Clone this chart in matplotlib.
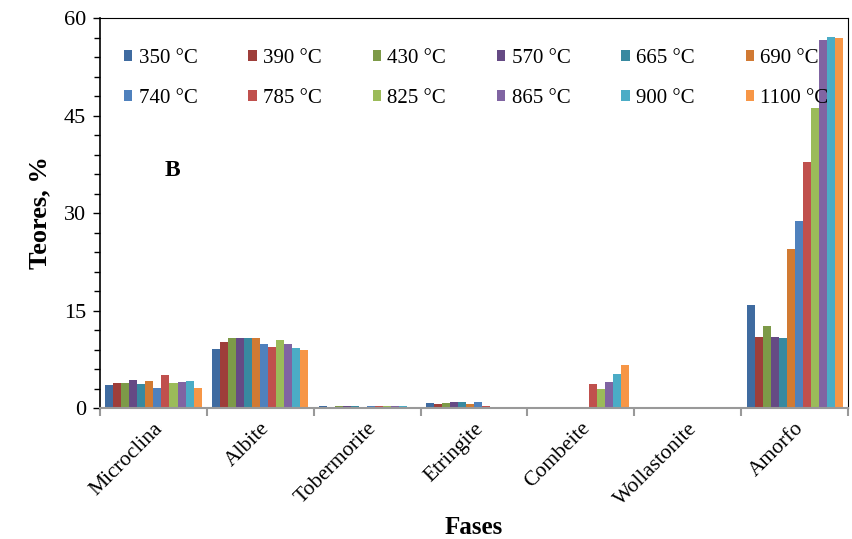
import matplotlib
matplotlib.use("Agg")
import matplotlib.pyplot as plt
import numpy as np
from matplotlib.ticker import MultipleLocator, FixedLocator

plt.rcParams['font.family'] = ['Liberation Serif', 'DejaVu Serif']

# Phases and firing temperatures
fases = ['Microclina', 'Albite', 'Tobermorite', 'Etringite', 'Combeite', 'Wollastonite', 'Amorfo']
temps = ['350 °C', '390 °C', '430 °C', '570 °C', '665 °C', '690 °C',
         '740 °C', '785 °C', '825 °C', '865 °C', '900 °C', '1100 °C']

# Contents (%) per temperature, one value per phase
t350 = [3.5, 9.1, 0.25, 0.75, 0, 0, 15.8]
t390 = [3.85, 10.1, 0, 0.55, 0, 0, 11.0]
t430 = [3.85, 10.8, 0.25, 0.75, 0, 0, 12.6]
t570 = [4.35, 10.8, 0.25, 0.9, 0, 0, 11.0]
t665 = [3.7, 10.8, 0.25, 0.9, 0, 0, 10.8]
t690 = [4.2, 10.8, 0, 0.55, 0, 0, 24.4]
t740 = [3.05, 9.8, 0.25, 0.9, 0, 0, 28.8]
t785 = [5.15, 9.45, 0.25, 0.25, 3.75, 0, 37.8]
t825 = [3.85, 10.4, 0.25, 0, 3.0, 0, 46.2]
t865 = [4.0, 9.8, 0.25, 0, 3.95, 0, 56.6]
t900 = [4.2, 9.3, 0.25, 0, 5.3, 0, 57.1]
t1100 = [3.05, 9.0, 0, 0, 6.55, 0, 56.9]
series = [t350, t390, t430, t570, t665, t690, t740, t785, t825, t865, t900, t1100]

colors = ['#3F6BA0', '#9E3E3A', '#7D9A48', '#654A84', '#3889A0', '#D17A33',
          '#4F81BD', '#C0504D', '#9BBB59', '#8064A2', '#4BACC6', '#F79646']

fig = plt.figure(figsize=(8.52, 5.39), dpi=100)
ax = fig.add_axes([0.1174, 0.243, 0.878, 0.7236])

x = np.arange(len(fases))
w = 0.075
bars = []
for i, (vals, lab, c) in enumerate(zip(series, temps, colors)):
    bars.append(ax.bar(x + (i - 5.5) * w, vals, w, color=c, label=lab, linewidth=0))

ax.set_xlim(-0.5, 6.5)
ax.set_ylim(0, 60)
ax.yaxis.set_major_locator(MultipleLocator(15))
ax.yaxis.set_minor_locator(MultipleLocator(3))
ax.tick_params(axis='y', which='major', direction='out', length=5, width=1,
               labelsize=16, pad=5)
ax.tick_params(axis='y', which='minor', direction='out', length=4, width=1)

ax.set_xticks(x)
ax.set_xticklabels(fases, rotation=45, ha='right', rotation_mode='anchor', fontsize=15.5)
ax.tick_params(axis='x', which='major', length=0, pad=8)
ax.xaxis.set_minor_locator(FixedLocator(np.arange(-0.5, 7, 1)))
ax.tick_params(axis='x', which='minor', direction='out', length=6, width=1.5, color='#999999')

ax.spines['bottom'].set_color('#999999')
ax.spines['bottom'].set_linewidth(1.5)
ax.spines['left'].set_linewidth(1.2)
ax.spines['top'].set_linewidth(0.8)
ax.spines['right'].set_linewidth(0.8)

ax.set_ylabel('Teores, %', fontsize=19, fontweight='bold', labelpad=9)
ax.set_xlabel('Fases', fontsize=18, fontweight='bold', labelpad=5)

ax.text(0.097, 0.61, 'B', transform=ax.transAxes, fontsize=17, fontweight='bold',
        ha='center', va='center')

# legend filled row by row: 6 columns, 2 rows
order = [k for j in range(6) for k in (j, j + 6)]
leg = ax.legend([bars[k] for k in order], [temps[k] for k in order],
                ncol=6, loc='upper left', bbox_to_anchor=(0.032, 0.92), frameon=False,
                fontsize=15, handlelength=0.4, handleheight=0.4, handletextpad=0.3,
                columnspacing=2.45, labelspacing=1.0, borderaxespad=0, borderpad=0)

fig.savefig('out.png', dpi=100)
